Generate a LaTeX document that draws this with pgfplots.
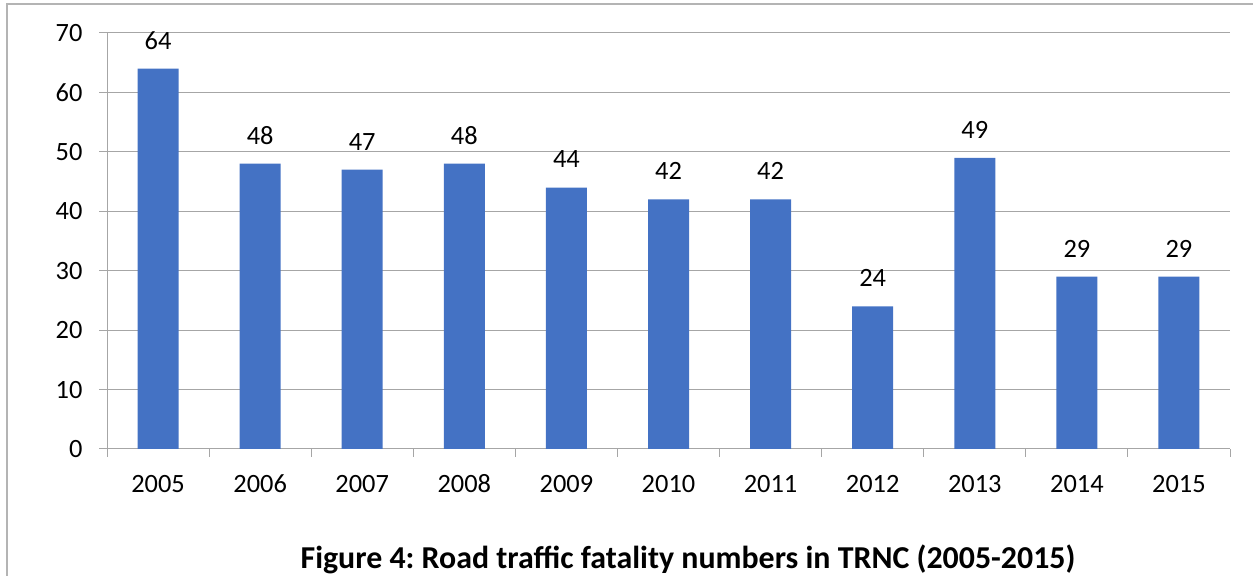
\documentclass[border=0pt]{standalone}
\usepackage{fontspec}
\setmainfont{Carlito}
\usepackage{pgfplots}
\pgfplotsset{compat=1.18}
\definecolor{barblue}{RGB}{68,114,196}
\definecolor{gridgray}{RGB}{166,166,166}
\definecolor{framegray}{RGB}{180,180,180}
\frenchspacing

% road traffic fatalities, TRNC
\pgfplotstableread{
x year deaths
0 2005 64
1 2006 48
2 2007 47
3 2008 48
4 2009 44
5 2010 42
6 2011 42
7 2012 24
8 2013 49
9 2014 29
10 2015 29
}\fatalities

\begin{document}
\begin{tikzpicture}[x=1bp,y=1bp]
\useasboundingbox (0,0) rectangle (1253,576);
\draw[framegray, line width=2bp] (7,0) -- (7,572) -- (1253,572);
\begin{axis}[
    at={(107bp,127bp)}, anchor=south west,
    scale only axis, width=1123bp, height=416bp,
    xmin=-0.5, xmax=10.5, ymin=0, ymax=70,
    axis lines*=left,
    axis line style={gridgray, line width=1bp},
    ymajorgrids, grid style={gridgray, line width=1bp},
    ytick={0,10,...,70},
    xtick={0,...,10},
    xticklabels={2005,2006,2007,2008,2009,2010,2011,2012,2013,2014,2015},
    minor xtick={-0.5,0.5,...,10.5},
    tick align=outside, major tick length=8bp, minor tick length=8bp,
    every major x tick/.append style={draw=none},
    every minor x tick/.append style={gridgray, line width=1bp},
    ytick style={gridgray, line width=1bp},
    tick label style={font=\fontsize{26.5}{31}\selectfont},
    xticklabel style={anchor=center, text height=17bp, text depth=0pt, yshift=-27bp},
    yticklabel style={xshift=-13bp},
    /pgf/number format/assume math mode=true,
    ybar, bar width=41bp,
    nodes near coords,
    every node near coord/.append style={font=\fontsize{26.5}{31}\selectfont, anchor=center, yshift=28bp},
  ]
  \addplot[fill=barblue, draw=none] table[x=x, y=deaths] {\fatalities};
\end{axis}
\node[font=\bfseries\fontsize{32}{38}\selectfont] at (688,17) {Figure 4: Road traffic fatality numbers in TRNC (2005-2015)};
\end{tikzpicture}
\end{document}
